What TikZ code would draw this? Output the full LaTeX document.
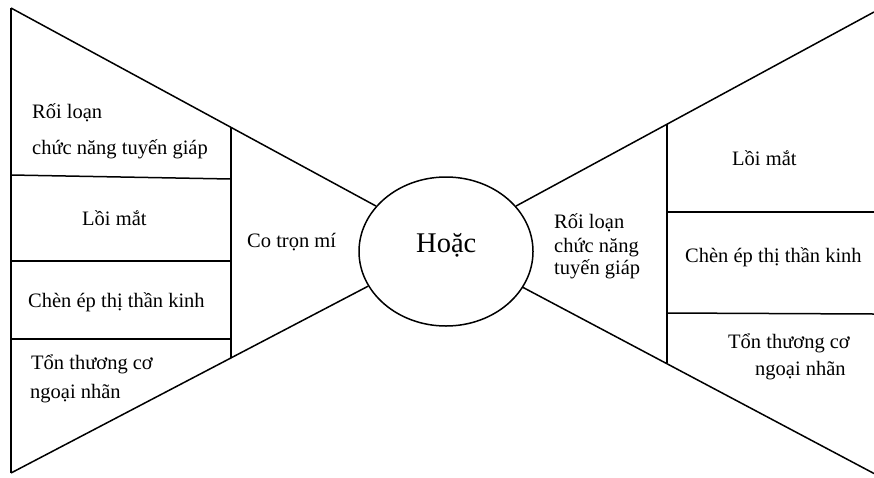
\documentclass[tikz,border=0pt]{standalone}
\usepackage{fontspec}
\setmainfont{Liberation Serif}
\usetikzlibrary{shapes.geometric}
\begin{document}
\begin{tikzpicture}[x=1pt,y=-1pt,
  ln/.style={line width=1.5pt, black},
  txt/.style={inner sep=0pt, anchor=base west, font=\fontsize{20.5}{24}\selectfont},
  big/.style={inner sep=0pt, anchor=base west, font=\fontsize{28.5}{32}\selectfont}]
\useasboundingbox (0,0) rectangle (874,477);
% centre ellipse
\node[ellipse, draw, line width=1.5pt, minimum width=174pt, minimum height=149pt, inner sep=0pt] (hoac) at (446,251.5) {};
\node[big] (thoac) at (416,252) {Hoặc};
% left coordinates
\coordinate (LT) at (11,8);
\coordinate (LB) at (11,473);
\coordinate (LC1) at (231,127.3);
\coordinate (LC2) at (231,357.5);
\coordinate (LH1a) at (11,175);  \coordinate (LH1b) at (231,179);
\coordinate (LH2a) at (11,261);  \coordinate (LH2b) at (231,261);
\coordinate (LH3a) at (11,339);  \coordinate (LH3b) at (231,339);
% right coordinates
\coordinate (RT) at (874,12);
\coordinate (RB) at (874,473.5);
\coordinate (RC1) at (667,124.3);
\coordinate (RC2) at (667,362.7);
\coordinate (RH1a) at (667,212); \coordinate (RH1b) at (874,212);
\coordinate (RH2a) at (667,313); \coordinate (RH2b) at (874,314);
% left frame
\draw[ln] (LT) -- (LB);
\draw[ln] (LT) -- (hoac.147);
\draw[ln] (LB) -- (hoac.204);
\draw[ln] (LC1) -- (LC2);
\draw[ln] (LH1a) -- (LH1b);
\draw[ln] (LH2a) -- (LH2b);
\draw[ln] (LH3a) -- (LH3b);
% right frame
\draw[ln] (hoac.33) -- (RT);
\draw[ln] (hoac.335.5) -- (RB);
\draw[ln] (RC1) -- (RC2);
\draw[ln] (RH1a) -- (RH1b);
\draw[ln] (RH2a) -- (RH2b);
% left texts
\node[txt] (l1a) at (32,118) {Rối loạn};
\node[txt] (l1b) at (32,154) {chức năng tuyến giáp};
\node[txt] (l2) at (82,225) {Lồi mắt};
\node[txt] (l3) at (28,307) {Chèn ép thị thần kinh};
\node[txt] (l4a) at (31,369) {Tổn thương cơ};
\node[txt] (l4b) at (30,398) {ngoại nhãn};
\node[txt] (lmid) at (247,247) {Co trọn mí};
% right texts
\node[txt] (rmid1) at (554,228) {Rối loạn};
\node[txt] (rmid2) at (554,252) {chức năng};
\node[txt] (rmid3) at (554,274) {tuyến giáp};
\node[txt] (r1) at (732,165) {Lồi mắt};
\node[txt] (r2) at (685,262) {Chèn ép thị thần kinh};
\node[txt] (r3a) at (728,348) {Tổn thương cơ};
\node[txt] (r3b) at (755,375) {ngoại nhãn};
\end{tikzpicture}
\end{document}
